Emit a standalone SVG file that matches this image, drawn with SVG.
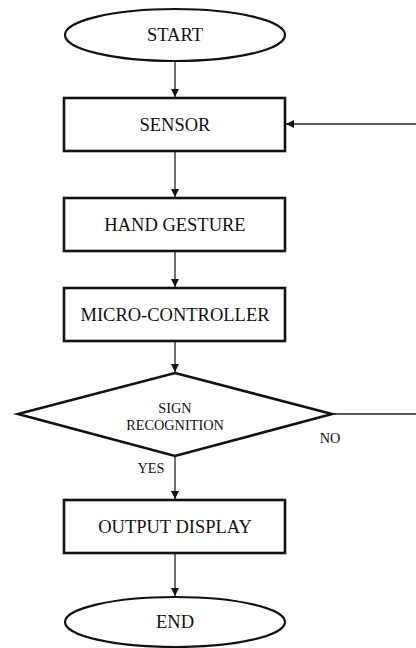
<svg xmlns="http://www.w3.org/2000/svg" width="416" height="648" viewBox="0 0 416 648">
<style>
.shape{fill:#fff;stroke:#111;stroke-width:2.6}
.term{fill:#fff;stroke:#111;stroke-width:2.2}
.lbl{font-family:"Liberation Serif","Times New Roman",serif;font-size:18.5px;fill:#111;text-anchor:middle}
.sm{font-family:"Liberation Serif","Times New Roman",serif;font-size:14.3px;fill:#111;text-anchor:middle}
.conn{fill:none;stroke:#222;stroke-width:1.3}
</style>
<defs>
<marker id="arr" viewBox="0 0 10 10" refX="10" refY="5" markerWidth="8" markerHeight="8" markerUnits="userSpaceOnUse" orient="auto">
<path d="M0,0 L10,5 L0,10 z" fill="#111"/>
</marker>
</defs>
<rect width="416" height="648" fill="#fff"/>
<g id="connectors">
<line class="conn" x1="175" y1="61" x2="175" y2="97" marker-end="url(#arr)"/>
<line class="conn" x1="175" y1="151" x2="175" y2="197" marker-end="url(#arr)"/>
<line class="conn" x1="175" y1="251" x2="175" y2="287" marker-end="url(#arr)"/>
<line class="conn" x1="175" y1="341" x2="175" y2="372" marker-end="url(#arr)"/>
<line class="conn" x1="175" y1="456" x2="175" y2="499" marker-end="url(#arr)"/>
<line class="conn" x1="175" y1="553" x2="175" y2="596" marker-end="url(#arr)"/>
<line class="conn" x1="332" y1="414" x2="416" y2="414"/>
<line class="conn" x1="416" y1="124" x2="286" y2="124" marker-end="url(#arr)"/>
<text class="sm" x="330" y="443">NO</text>
<text class="sm" x="151" y="473">YES</text>
</g>
<g id="start">
<ellipse class="term" cx="175" cy="35" rx="110" ry="26"/>
<text class="lbl" x="175" y="41">START</text>
</g>
<g id="sensor">
<rect class="shape" x="64" y="98" width="221" height="53"/>
<text class="lbl" x="175" y="131">SENSOR</text>
</g>
<g id="hand-gesture">
<rect class="shape" x="64" y="198" width="221" height="53"/>
<text class="lbl" x="175" y="231">HAND GESTURE</text>
</g>
<g id="micro-controller">
<rect class="shape" x="64" y="288" width="221" height="53"/>
<text class="lbl" x="175" y="321">MICRO-CONTROLLER</text>
</g>
<g id="sign-recognition">
<polygon class="shape" points="175,373 332,414 175,456 18,414"/>
<text class="sm" x="175" y="413">SIGN</text>
<text class="sm" x="175" y="430">RECOGNITION</text>
</g>
<g id="output-display">
<rect class="shape" x="64" y="500" width="221" height="53"/>
<text class="lbl" x="175" y="533">OUTPUT DISPLAY</text>
</g>
<g id="end">
<ellipse class="term" cx="175" cy="622" rx="110" ry="25"/>
<text class="lbl" x="175" y="628">END</text>
</g>
</svg>
